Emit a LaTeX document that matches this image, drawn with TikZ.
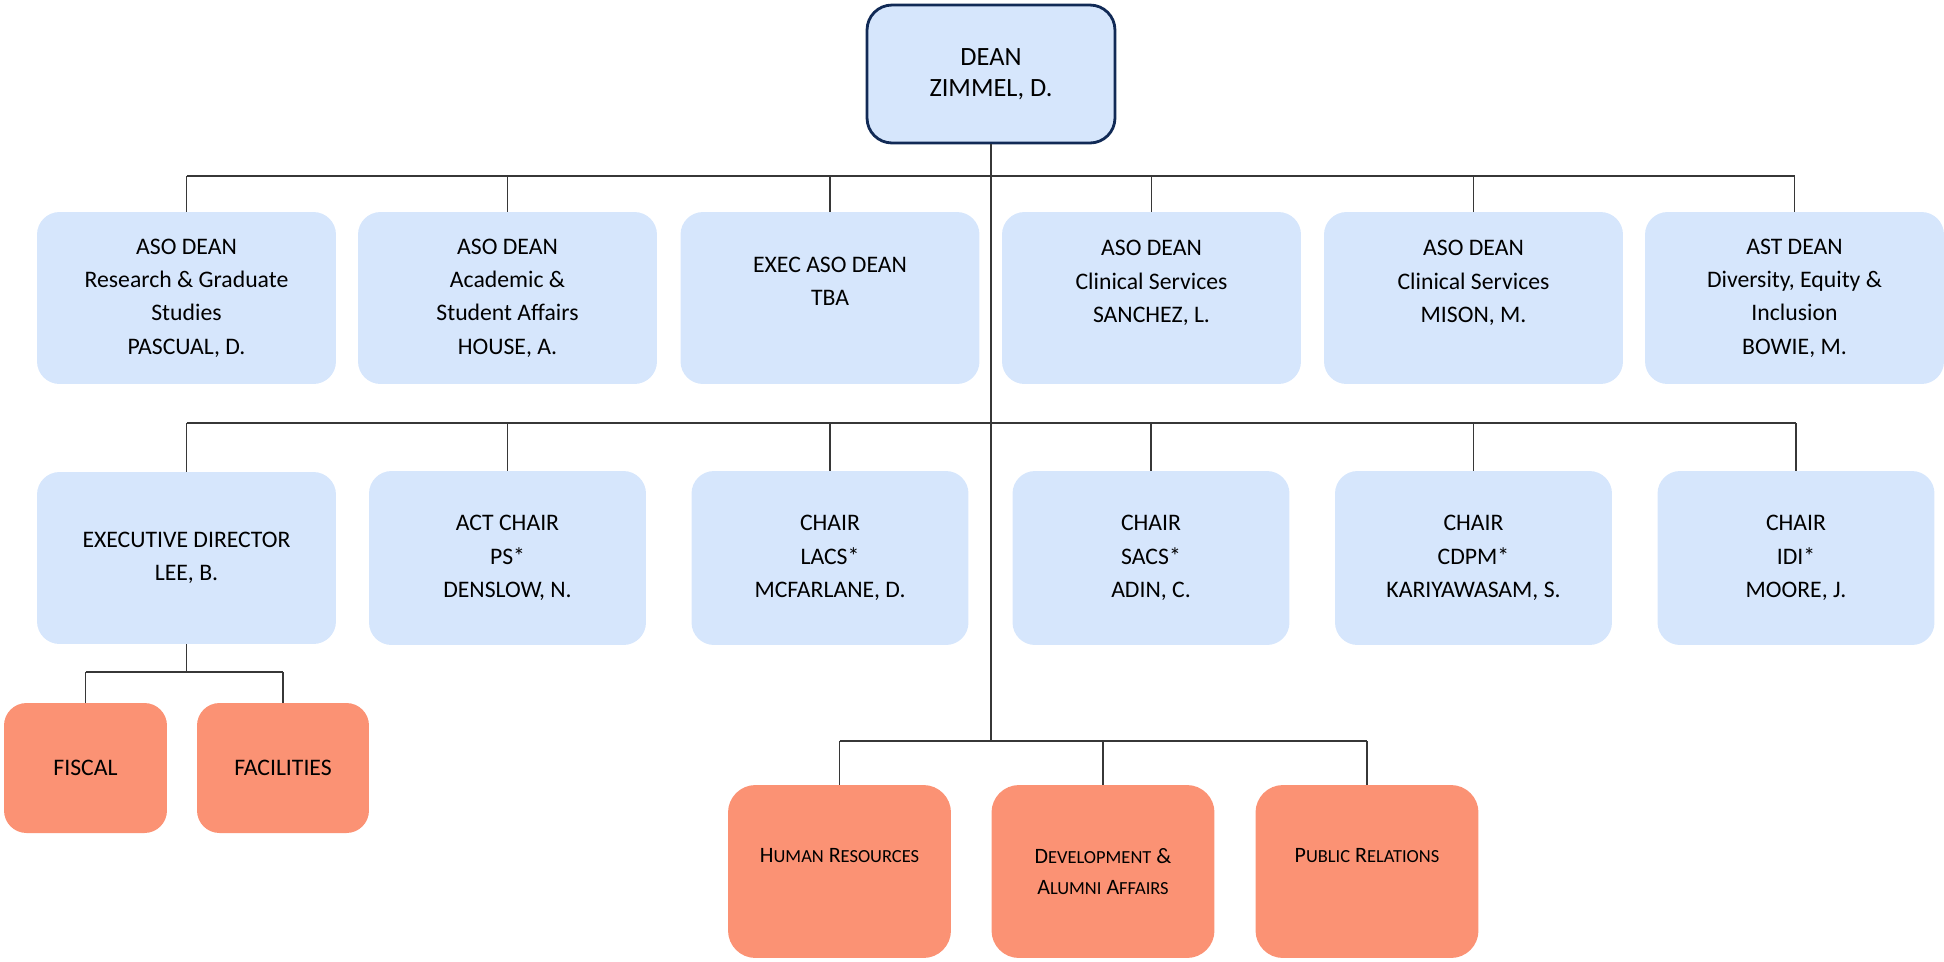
\documentclass[tikz,border=0pt]{standalone}
\usepackage{fontspec}
\setmainfont{Carlito}
\usepackage{tikz}
\definecolor{unitblue}{RGB}{214,230,252}
\definecolor{deanline}{RGB}{17,42,86}
\definecolor{officered}{RGB}{251,146,116}
\definecolor{linkgray}{RGB}{55,55,55}
\newcommand\unitfont{\fontsize{13.5}{19}\selectfont}
\newcommand\deanfont{\fontsize{15}{17.6}\selectfont}
\newcommand\officefont{\fontsize{12.5}{18}\selectfont}
\newcommand\sm[1]{{\fontsize{10.5}{18}\selectfont #1}}
\tikzset{
  unit/.style={rounded corners=0.45cm, fill=unitblue, align=center, inner sep=0pt,
    font=\unitfont, minimum width=5.98cm, minimum height=3.44cm},
  chair/.style={unit, minimum width=5.54cm, minimum height=3.48cm},
  deanbox/.style={unit, draw=deanline, line width=1.6pt, rounded corners=0.5cm,
    font=\deanfont, minimum width=4.96cm, minimum height=2.76cm},
  office/.style={rounded corners=0.55cm, fill=officered, align=center, inner sep=0pt,
    font=\officefont, minimum width=4.46cm, minimum height=3.46cm},
  support/.style={office, font=\unitfont, rounded corners=0.45cm, minimum height=2.6cm},
  link/.style={draw=linkgray, line width=0.9pt}
}

\begin{document}
\begin{tikzpicture}[x=0.02cm, y=-0.02cm]
	%%%%% START %%%%%
	\useasboundingbox (0, 0) rectangle (1944, 961);

	\node[deanbox] (dean) at (991, 74) {DEAN\\ZIMMEL, D.};

	% associate deans
	\node[unit] (rgs)  at (186.5, 298) {ASO DEAN\\Research \& Graduate\\Studies\\PASCUAL, D.};
	\node[unit] (asa)  at (507.5, 298) {ASO DEAN\\Academic \&\\Student Affairs\\HOUSE, A.};
	\node[unit] (exec) at (830, 298) {EXEC ASO DEAN\\TBA\\~};
	\node[unit] (csa)  at (1151.5, 298) {ASO DEAN\\Clinical Services\\SANCHEZ, L.\\~};
	\node[unit] (csb)  at (1473.5, 298) {ASO DEAN\\Clinical Services\\MISON, M.\\~};
	\node[unit] (dei)  at (1794.5, 298) {AST DEAN\\Diversity, Equity \&\\Inclusion\\BOWIE, M.};

	% director and chairs
	\node[unit]  (execdir) at (186.5, 558) {EXECUTIVE DIRECTOR\\LEE, B.};
	\node[chair] (ps)   at (507.5, 558) {ACT CHAIR\\PS*\\DENSLOW, N.};
	\node[chair] (lacs) at (830, 558) {CHAIR\\LACS*\\MCFARLANE, D.};
	\node[chair] (sacs) at (1151, 558) {CHAIR\\SACS*\\ADIN, C.};
	\node[chair] (cdpm) at (1473.5, 558) {CHAIR\\CDPM*\\KARIYAWASAM, S.};
	\node[chair] (idi)  at (1796, 558) {CHAIR\\IDI*\\MOORE, J.};

	% offices
	\node[support, minimum width=3.26cm] (fiscal) at (85.5, 768) {FISCAL};
	\node[support, minimum width=3.44cm] (facil)  at (283, 768) {FACILITIES};
	\node[office] (hr)  at (839.5, 871.5) {H\sm{UMAN} R\sm{ESOURCES}\\~};
	\node[office] (dev) at (1103, 871.5) {D\sm{EVELOPMENT} \&\\A\sm{LUMNI} A\sm{FFAIRS}};
	\node[office] (pr)  at (1367, 871.5) {P\sm{UBLIC} R\sm{ELATIONS}\\~};

	\coordinate (busA) at (991, 176);
	\coordinate (busB) at (991, 423);
	\coordinate (busC) at (991, 741);
	\coordinate (busD) at (183, 672);

	\draw[link] (dean.south) -- (dean.south |- busC);
	\draw[link] (rgs.north |- busA) -- (dei.north |- busA);
	\foreach \n in {rgs, asa, exec, csa, csb, dei}
		\draw[link] (\n.north) -- (\n.north |- busA);
	\draw[link] (execdir.north |- busB) -- (idi.north |- busB);
	\foreach \n in {execdir, ps, lacs, sacs, cdpm, idi}
		\draw[link] (\n.north) -- (\n.north |- busB);
	\draw[link] (hr.north |- busC) -- (pr.north |- busC);
	\foreach \n in {hr, dev, pr}
		\draw[link] (\n.north) -- (\n.north |- busC);
	\draw[link] (execdir.south) -- (execdir.south |- busD);
	\draw[link] (fiscal.north |- busD) -- (facil.north |- busD);
	\foreach \n in {fiscal, facil}
		\draw[link] (\n.north) -- (\n.north |- busD);
	%%%%% END %%%%%
\end{tikzpicture}
\end{document}
